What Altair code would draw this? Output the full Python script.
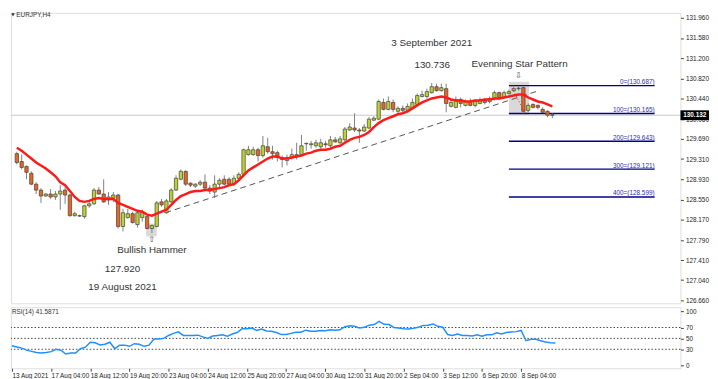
import altair as alt
import pandas as pd

# ---------------- data ----------------
opens = [
    129.411, 129.264, 129.171, 129.042, 128.839, 128.728, 128.617, 128.654, 128.599, 128.654,
    128.728, 128.636, 128.248, 128.248, 128.230, 128.433, 128.470, 128.728, 128.654, 128.543,
    128.580, 128.636, 128.045, 128.211, 128.285, 128.082, 128.211, 128.230, 128.008, 128.045,
    128.507, 128.303, 128.507, 128.728, 128.931, 129.079, 128.857, 128.802, 128.839, 128.876,
    128.765, 128.691, 128.839, 128.931, 128.931, 128.839, 128.950, 129.024, 129.393, 129.393,
    129.485, 129.375, 129.541, 129.448, 129.430, 129.338, 129.282, 129.338, 129.393, 129.393,
    129.596, 129.578, 129.559, 129.541, 129.596, 129.559, 129.670, 129.615, 129.670, 129.855,
    129.892, 129.855, 129.836, 129.892, 130.039, 130.058, 130.372, 130.242, 130.372, 130.206,
    130.261, 130.224, 130.261, 130.335, 130.483, 130.483, 130.556, 130.667, 130.593, 130.630,
    130.298, 130.279, 130.427, 130.316, 130.390, 130.316, 130.353, 130.409, 130.390, 130.446,
    130.556, 130.464, 130.538, 130.593, 130.630, 130.649, 130.224, 130.335, 130.316, 130.242,
    130.206, 130.140]
highs = [
    129.448, 129.393, 129.190, 129.079, 128.876, 128.765, 128.673, 128.747, 128.710, 128.820,
    128.784, 128.654, 128.322, 128.267, 128.451, 128.507, 128.765, 128.784, 128.931, 128.691,
    128.691, 128.654, 128.377, 128.377, 128.322, 128.359, 128.359, 128.248, 128.082, 128.525,
    128.562, 128.562, 128.765, 129.005, 129.116, 129.098, 128.876, 128.857, 128.913, 129.024,
    128.820, 129.005, 128.950, 129.005, 128.968, 129.005, 129.061, 129.504, 129.559, 129.541,
    129.522, 129.744, 129.707, 129.559, 129.467, 129.375, 129.393, 129.504, 129.615, 129.762,
    129.615, 129.652, 129.670, 129.689, 129.652, 129.744, 129.725, 129.744, 129.910, 129.984,
    130.169, 129.892, 129.966, 130.095, 130.113, 130.427, 130.446, 130.483, 130.427, 130.298,
    130.316, 130.353, 130.446, 130.538, 130.593, 130.630, 130.736, 130.723, 130.723, 130.723,
    130.427, 130.483, 130.464, 130.427, 130.446, 130.427, 130.464, 130.446, 130.483, 130.593,
    130.575, 130.593, 130.612, 130.687, 130.667, 130.667, 130.353, 130.353, 130.335, 130.279,
    130.224, 130.169]
lows = [
    129.208, 129.116, 128.931, 128.820, 128.654, 128.488, 128.599, 128.562, 128.543, 128.359,
    128.470, 128.230, 128.230, 128.230, 128.193, 128.396, 128.451, 128.636, 128.488, 128.451,
    128.507, 128.008, 127.953, 128.193, 128.100, 128.026, 128.137, 127.990, 127.920, 128.026,
    128.414, 128.285, 128.488, 128.710, 128.913, 128.802, 128.784, 128.765, 128.802, 128.747,
    128.654, 128.580, 128.784, 128.820, 128.802, 128.802, 128.931, 129.005, 129.375, 129.375,
    129.264, 129.338, 129.411, 129.301, 129.264, 129.153, 129.190, 129.301, 129.301, 129.375,
    129.467, 129.504, 129.522, 129.504, 129.522, 129.522, 129.615, 129.596, 129.633, 129.836,
    129.818, 129.615, 129.818, 129.873, 130.021, 130.039, 130.224, 130.224, 130.187, 130.169,
    130.187, 130.206, 130.242, 130.316, 130.464, 130.446, 130.538, 130.575, 130.575, 130.187,
    130.279, 130.261, 130.279, 130.298, 130.298, 130.279, 130.335, 130.335, 130.353, 130.409,
    130.427, 130.446, 130.519, 130.575, 130.593, 130.165, 130.187, 130.261, 130.242, 130.169,
    130.095, 130.076]
closes = [
    129.245, 129.153, 129.061, 128.839, 128.728, 128.617, 128.654, 128.599, 128.654, 128.710,
    128.636, 128.248, 128.285, 128.240, 128.433, 128.470, 128.728, 128.654, 128.507, 128.599,
    128.636, 128.045, 128.303, 128.285, 128.119, 128.303, 128.303, 128.008, 128.063, 128.488,
    128.451, 128.525, 128.728, 128.950, 129.079, 128.839, 128.820, 128.839, 128.876, 128.765,
    128.710, 128.839, 128.913, 128.839, 128.839, 128.950, 129.024, 129.485, 129.485, 129.485,
    129.375, 129.559, 129.448, 129.411, 129.338, 129.301, 129.338, 129.393, 129.356, 129.559,
    129.605, 129.596, 129.615, 129.615, 129.578, 129.670, 129.633, 129.689, 129.873, 129.910,
    129.855, 129.836, 129.910, 130.058, 130.076, 130.390, 130.242, 130.390, 130.242, 130.261,
    130.224, 130.298, 130.372, 130.501, 130.519, 130.575, 130.667, 130.593, 130.649, 130.353,
    130.372, 130.427, 130.353, 130.390, 130.316, 130.390, 130.409, 130.372, 130.446, 130.556,
    130.464, 130.556, 130.575, 130.630, 130.640, 130.206, 130.316, 130.279, 130.279, 130.187,
    130.132, 130.132]
ma_values = [
    129.522, 129.467, 129.393, 129.319, 129.245, 129.190, 129.134, 129.061, 128.987, 128.876,
    128.820, 128.710, 128.599, 128.525, 128.507, 128.525, 128.562, 128.580, 128.562, 128.562,
    128.562, 128.488, 128.451, 128.414, 128.377, 128.340, 128.322, 128.267, 128.248, 128.285,
    128.322, 128.359, 128.451, 128.543, 128.617, 128.654, 128.691, 128.710, 128.710, 128.728,
    128.728, 128.747, 128.765, 128.784, 128.820, 128.839, 128.913, 129.005, 129.098, 129.153,
    129.208, 129.264, 129.319, 129.356, 129.356, 129.319, 129.319, 129.338, 129.356, 129.375,
    129.411, 129.430, 129.467, 129.485, 129.485, 129.504, 129.541, 129.559, 129.615, 129.670,
    129.707, 129.725, 129.762, 129.818, 129.910, 129.984, 130.039, 130.076, 130.113, 130.150,
    130.169, 130.206, 130.261, 130.316, 130.372, 130.409, 130.446, 130.464, 130.483, 130.464,
    130.427, 130.409, 130.409, 130.390, 130.390, 130.409, 130.409, 130.427, 130.427, 130.446,
    130.446, 130.464, 130.483, 130.501, 130.519, 130.519, 130.464, 130.427, 130.390, 130.372,
    130.335, 130.298]
rsi_values = [
    36.5, 34.3, 32.2, 28.4, 26.2, 24.1, 23.0, 24.1, 25.7, 30.0,
    28.4, 21.4, 23.0, 23.0, 31.1, 33.8, 43.0, 41.9, 38.1, 39.2,
    43.0, 31.1, 37.6, 37.6, 35.4, 40.3, 39.2, 35.4, 37.6, 48.9,
    48.9, 50.0, 55.4, 59.2, 61.9, 55.4, 55.4, 55.4, 55.9, 52.7,
    50.0, 54.3, 55.4, 56.5, 53.8, 58.1, 60.8, 67.8, 67.8, 68.9,
    64.6, 67.3, 63.5, 63.0, 60.8, 57.0, 57.0, 59.2, 61.3, 61.3,
    65.1, 63.0, 63.0, 64.6, 64.1, 65.7, 65.1, 65.7, 71.6, 73.2,
    72.2, 68.9, 70.5, 74.3, 75.4, 81.3, 75.9, 75.4, 70.0, 68.9,
    67.8, 67.3, 68.4, 70.5, 73.8, 74.3, 76.5, 72.2, 70.5, 57.0,
    55.4, 58.1, 55.4, 55.4, 54.3, 56.5, 53.8, 56.5, 56.5, 60.3,
    58.1, 60.8, 61.9, 62.4, 64.6, 45.7, 48.4, 48.4, 45.7, 43.5,
    41.9, 41.59]

x_labels = ["13 Aug 2021", "17 Aug 04:00", "18 Aug 12:00", "19 Aug 20:00", "23 Aug 04:00",
            "24 Aug 12:00", "25 Aug 20:00", "27 Aug 04:00", "30 Aug 12:00", "31 Aug 20:00",
            "2 Sep 04:00", "3 Sep 12:00", "6 Sep 20:00", "8 Sep 04:00"]
x_label_step = 8
y_ticks = [131.960, 131.580, 131.200, 130.820, 130.440, 130.060, 129.690, 129.310,
           128.930, 128.550, 128.170, 127.790, 127.410, 127.040, 126.660]
rsi_ticks = [0, 30, 50, 70, 100]
rsi_levels = [30, 50, 70]
current_price = 130.132
fib_names = ["0", "100", "200", "300", "400"]
fib_levels = [130.687, 130.165, 129.643, 129.121, 128.599]
fib_start, fib_end = 102.0, 132.2
trend_i = [30.8, 108.2]
trend_p = [128.303, 130.593]
fib_diag_i = [102.4, 105.4]
fib_diag_p = [130.687, 130.165]
box_i1 = [26.8, 102.0]
box_i2 = [29.0, 106.2]
box_p1 = [128.100, 130.760]
box_p2 = [127.860, 130.132]
ann_text = ["3 September 2021", "130.736", "Evenning Star Pattern",
            "Bullish Hammer", "127.920", "19 August 2021"]
ann_i = [86.0, 86.1, 104.2, 28.0, 21.9, 21.9]
ann_p = [131.480, 131.074, 131.092, 127.602, 127.251, 126.918]
arrow_text = ["\u21e9", "\u21e7"]
arrow_i = [104.0, 27.94]
arrow_p = [130.880, 127.810]

# ---------------- layout ----------------
FONT = "Liberation Sans"
W, H_MAIN, H_RSI = 680, 295, 62
X_DOM = [-0.2, 136.54]
Y_DOM = [126.6045, 132.052]
R_DOM = [-4.9, 107.2]

n = len(opens)
idx = list(range(n))
candles = pd.DataFrame({"i": idx, "open": opens, "high": highs, "low": lows,
                        "close": closes, "ma": ma_values})
candles["dir"] = ["up" if c >= o else "down" for o, c in zip(opens, closes)]
rsi_df = pd.DataFrame({"i": idx, "rsi": rsi_values})

xs = alt.Scale(domain=X_DOM, nice=False, zero=False)
ys = alt.Scale(domain=Y_DOM, nice=False, zero=False)
rs = alt.Scale(domain=R_DOM, nice=False, zero=False)

yaxis = alt.Axis(values=y_ticks, orient="right", format=".3f", title=None, grid=False,
                 domain=False, tickSize=3, tickColor="#444", labelPadding=2,
                 labelFont=FONT, labelFontSize=6.5, labelColor="#222",
                 labelOverlap=False, labelFlush=False)
raxis = alt.Axis(values=rsi_ticks, orient="right", format="d", title=None, grid=False,
                 domain=False, tickSize=3, tickColor="#444", labelPadding=2,
                 labelFont=FONT, labelFontSize=6.5, labelColor="#222",
                 labelOverlap=False, labelFlush=False)
label_js = "[" + ",".join("'" + s + "'" for s in x_labels) + "]"
xaxis = alt.Axis(values=[k * x_label_step for k in range(len(x_labels))],
                 labelExpr=label_js + "[round(datum.value/" + str(x_label_step) + ")]",
                 title=None, grid=False, domain=False, tickSize=3, tickColor="#444",
                 labelAlign="left", labelPadding=1, labelFont=FONT, labelFontSize=6.5,
                 labelColor="#222", labelOverlap=False, labelFlush=False)


def PX(f="i"):
    return alt.X(f + ":Q", scale=xs, axis=None)


def PY(f):
    return alt.Y(f + ":Q", scale=ys, axis=yaxis)


cur_line = alt.Chart(pd.DataFrame({"p": [current_price]})).mark_rule(
    color="#c8c8c8", strokeWidth=1).encode(y=PY("p"))

boxes = alt.Chart(pd.DataFrame({"a": box_i1, "b": box_i2, "p1": box_p1, "p2": box_p2})).mark_rect(
    color="#d9d9d9").encode(x=PX("a"), x2="b:Q", y=PY("p1"), y2="p2:Q")

fib_df = pd.DataFrame({"lvl": fib_levels, "a": fib_start, "b": fib_end,
                       "lab": [f"{nm}=({v:.3f})" for nm, v in zip(fib_names, fib_levels)]})
fib_lines = alt.Chart(fib_df).mark_rule(color="#00008b", strokeWidth=1.5).encode(
    x=PX("a"), x2="b:Q", y=PY("lvl"))
fib_labels = alt.Chart(fib_df).mark_text(
    align="right", baseline="bottom", dy=-0.5, font=FONT, fontSize=6.5, color="#2b2bb5").encode(
    x=PX("b"), y=PY("lvl"), text="lab:N")

trend = alt.Chart(pd.DataFrame({"i": trend_i, "p": trend_p})).mark_line(
    color="#555555", strokeWidth=1, strokeDash=[6, 4]).encode(x=PX(), y=PY("p"))
fib_diag = alt.Chart(pd.DataFrame({"i": fib_diag_i, "p": fib_diag_p})).mark_line(
    color="#e03030", strokeWidth=1, strokeDash=[1, 2]).encode(x=PX(), y=PY("p"))

base = alt.Chart(candles)
wicks = base.mark_rule(color="#808080", strokeWidth=1).encode(
    x=PX(), y=PY("low"), y2="high:Q")
bodies = base.mark_bar(size=3.4, stroke="#404040", strokeWidth=0.7).encode(
    x=PX(), y=PY("open"), y2="close:Q",
    color=alt.Color("dir:N", scale=alt.Scale(domain=["up", "down"],
                                             range=["#bdd22c", "#e8661e"]), legend=None))
ma_line = base.mark_line(color="#ff1a1a", strokeWidth=2.5).encode(x=PX(), y=PY("ma"))

ann = alt.Chart(pd.DataFrame({"i": ann_i, "p": ann_p, "t": ann_text})).mark_text(
    font=FONT, fontSize=10, color="#333333", baseline="middle").encode(
    x=PX(), y=PY("p"), text="t:N")
arrows = alt.Chart(pd.DataFrame({"i": arrow_i, "p": arrow_p, "t": arrow_text})).mark_text(
    font="DejaVu Sans", fontSize=8.5, color="#555555", baseline="middle").encode(
    x=PX(), y=PY("p"), text="t:N")

header_tri = alt.Chart(pd.DataFrame({"t": ["\u25bc"]})).mark_text(
    font="DejaVu Sans", fontSize=4.5, color="#333", align="center", baseline="middle").encode(
    x=alt.value(2), y=alt.value(2), text="t:N")
header = alt.Chart(pd.DataFrame({"t": ["EURJPY,H4"]})).mark_text(
    font=FONT, fontSize=6.5, color="#333", align="left", baseline="middle").encode(
    x=alt.value(5.5), y=alt.value(2), text="t:N")

pbox_df = pd.DataFrame({"p": [current_price], "p1": [current_price + 0.092],
                        "p2": [current_price - 0.092], "t": [f"{current_price:.3f}"]})
pbox = alt.Chart(pbox_df).mark_rect(color="#000000").encode(
    x=alt.value(W), x2=alt.value(W + 29), y=PY("p1"), y2="p2:Q")
ptext = alt.Chart(pbox_df).mark_text(
    font=FONT, fontSize=6.5, fontWeight="bold", color="#ffffff", align="center",
    baseline="middle").encode(x=alt.value(W + 14.5), y=PY("p"), text="t:N")

main = alt.layer(cur_line, boxes, fib_lines, fib_labels, trend, wicks, bodies, ma_line,
                 fib_diag, ann, arrows, header_tri, header, pbox, ptext).properties(
    width=W, height=H_MAIN)

# ---------------- RSI panel ----------------
levels = alt.Chart(pd.DataFrame({"lvl": rsi_levels})).mark_rule(
    color="#444444", strokeWidth=1, strokeDash=[1.5, 2]).encode(
    y=alt.Y("lvl:Q", scale=rs, axis=raxis))
rsi_line = alt.Chart(rsi_df).mark_line(color="#1e90ff", strokeWidth=1.5).encode(
    x=alt.X("i:Q", scale=xs, axis=xaxis), y=alt.Y("rsi:Q", scale=rs, axis=raxis))
rsi_lab = alt.Chart(pd.DataFrame({"t": [f"RSI(14) {41.5871:.4f}"]})).mark_text(
    font=FONT, fontSize=6.5, color="#333", align="left", baseline="middle").encode(
    x=alt.value(1), y=alt.value(5), text="t:N")
rsi = alt.layer(levels, rsi_line, rsi_lab).properties(width=W, height=H_RSI)

chart = alt.vconcat(main, rsi, spacing=2, padding=0).configure_view(
    stroke="#333333", strokeWidth=1).configure(background="#ffffff")

chart.save("out.html", embed_options={"renderer": "svg", "actions": False})
